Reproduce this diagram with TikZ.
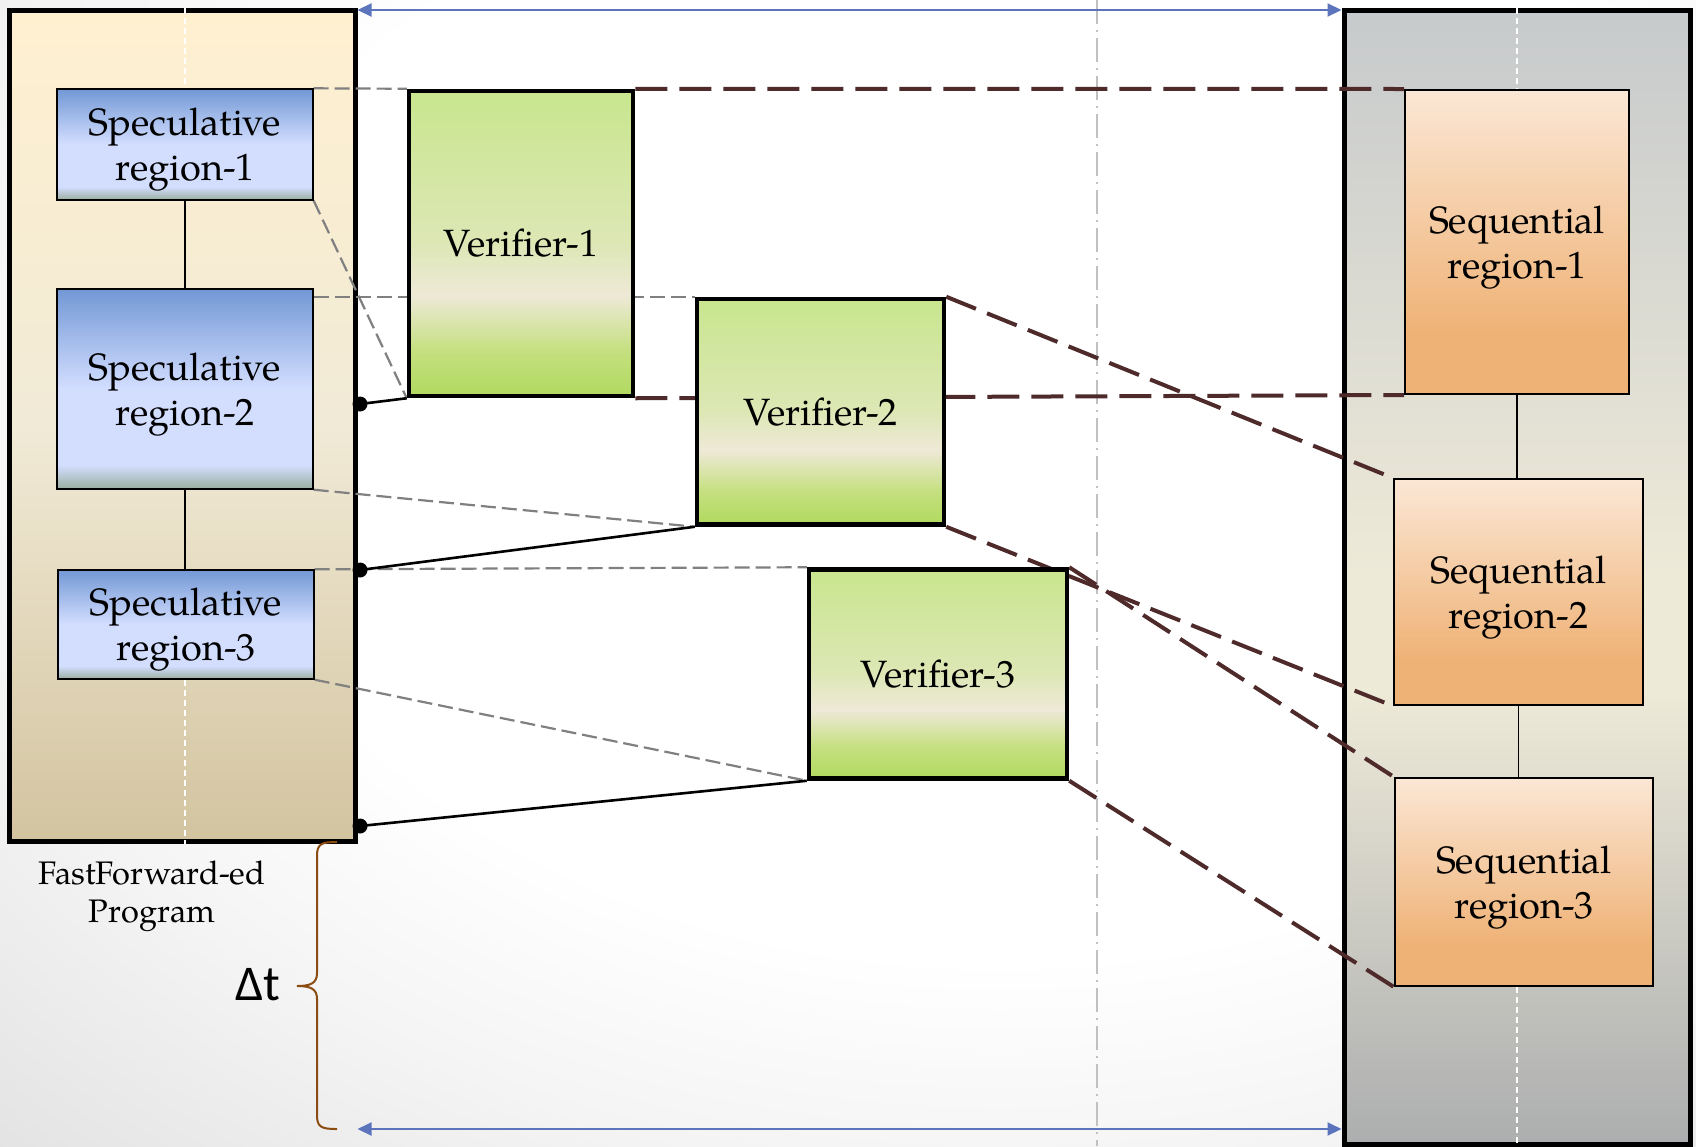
\documentclass[tikz,border=0pt]{standalone}
\usepackage{fontspec}
\setmainfont{TeX Gyre Pagella}
\newfontfamily\dtfont{Carlito}
\usetikzlibrary{arrows.meta}

\definecolor{progtop}{HTML}{FFF0D0}
\definecolor{progmid}{HTML}{F1EAD6}
\definecolor{progbot}{HTML}{D3C4A0}
\definecolor{coltop}{HTML}{C7CACC}
\definecolor{colmid}{HTML}{EEEAD8}
\definecolor{colbot}{HTML}{ACAEAF}
\definecolor{spectop}{HTML}{7298D5}
\definecolor{speclight}{HTML}{D3DEFF}
\definecolor{specbot}{HTML}{9AAE9F}
\definecolor{vertop}{HTML}{C8E68E}
\definecolor{verlight}{HTML}{DDE7B5}
\definecolor{vermid}{HTML}{EEE9D7}
\definecolor{verlow}{HTML}{C5E080}
\definecolor{verbot}{HTML}{B1D95F}
\definecolor{seqtop}{HTML}{FBE7D5}
\definecolor{seqbot}{HTML}{EFB276}
\definecolor{arrowblue}{HTML}{5B74BC}
\definecolor{darkdash}{HTML}{4E2A2A}
\definecolor{bracebrown}{HTML}{8B4C12}
\definecolor{dashgray}{HTML}{808080}
\definecolor{axisgray}{HTML}{C0C0C0}

\pgfdeclareverticalshading{progshade}{100bp}{color(0bp)=(progbot); color(25bp)=(progbot); color(50bp)=(progmid); color(75bp)=(progtop); color(100bp)=(progtop)}
\pgfdeclareverticalshading{colshade}{100bp}{color(0bp)=(colbot); color(25bp)=(colbot); color(45bp)=(colmid); color(50bp)=(colmid); color(75bp)=(coltop); color(100bp)=(coltop)}
\pgfdeclareverticalshading{specshade}{100bp}{color(0bp)=(specbot); color(25bp)=(specbot); color(31bp)=(speclight); color(50bp)=(speclight); color(75bp)=(spectop); color(100bp)=(spectop)}
\pgfdeclareverticalshading{vershade}{100bp}{color(0bp)=(verbot); color(25bp)=(verbot); color(32.5bp)=(verlow); color(41.5bp)=(vermid); color(50bp)=(verlight); color(75bp)=(vertop); color(100bp)=(vertop)}
\pgfdeclareverticalshading{seqshade}{100bp}{color(0bp)=(seqbot); color(25bp)=(seqbot); color(35bp)=(seqbot); color(75bp)=(seqtop); color(100bp)=(seqtop)}
\pgfdeclareradialshading{bgshade}{\pgfpoint{0bp}{0bp}}{color(0bp)=(white); color(14bp)=(white); color(19bp)=(black!4); color(26bp)=(black!11); color(35bp)=(black!13); color(50bp)=(black!13)}

\pgfdeclarelayer{background}
\pgfdeclarelayer{lines}
\pgfsetlayers{background,lines,main}

\tikzset{
  boxfont/.style={font=\fontsize{19}{22.5}\selectfont},
  bigcol/.style={draw=black, line width=2.5pt, shade, inner sep=0pt},
  specbox/.style={draw=black, line width=0.7pt, shade, shading=specshade, inner sep=0pt},
  verbox/.style={draw=black, line width=2.25pt, shade, shading=vershade, inner sep=0pt, align=center, boxfont},
  seqbox/.style={draw=black, line width=1pt, shade, shading=seqshade, inner sep=0pt},
  boxtext/.style={align=center, inner sep=0pt, boxfont, yshift=-2.75pt},
  graydash/.style={draw=dashgray, line width=1.1pt, dash pattern=on 7.5pt off 3pt},
  browndash/.style={draw=darkdash, line width=2pt, dash pattern=on 16pt off 6pt},
  blackline/.style={draw=black, line width=1.3pt},
  thinlink/.style={draw=black, line width=0.8pt},
  dotmark/.style={circle, fill=black, inner sep=0pt, minimum size=7.5pt},
  whitedash/.style={draw=white, line width=0.8pt, dash pattern=on 3pt off 2pt},
  timearrow/.style={draw=arrowblue, line width=1pt, {Triangle[length=7pt,width=6.5pt]}-{Triangle[length=7pt,width=6.5pt]}},
  axisline/.style={draw=axisgray, line width=0.75pt, dash pattern=on 12pt off 3pt on 1pt off 3pt},
}

\begin{document}
\begin{tikzpicture}[x=0.5pt,y=-0.5pt]
\useasboundingbox (0,0) rectangle (1696,1146);

% main nodes
\node[specbox, minimum width=128pt, minimum height=55.5pt] (s1) at (185,144.5) {};
\node[specbox, minimum width=128pt, minimum height=100pt] (s2) at (185,389) {};
\node[specbox, minimum width=128pt, minimum height=54.5pt] (s3) at (186,624.5) {};
\node[boxtext] (s1t) at (s1.center) {Speculative\\region-1};
\node[boxtext] (s2t) at (s2.center) {Speculative\\region-2};
\node[boxtext] (s3t) at (s3.center) {Speculative\\region-3};

\node[verbox, minimum width=112pt, minimum height=152.5pt] (v1) at (521,243.5) {Verifier-1};
\node[verbox, minimum width=123.5pt, minimum height=112.75pt] (v2) at (820.5,411.75) {Verifier-2};
\node[verbox, minimum width=129pt, minimum height=104.5pt] (v3) at (938,674) {Verifier-3};

\node[seqbox, minimum width=112pt, minimum height=152pt] (q1) at (1517,242) {};
\node[seqbox, minimum width=124.5pt, minimum height=113pt] (q2) at (1518.5,592) {};
\node[seqbox, minimum width=129pt, minimum height=104pt] (q3) at (1524,882) {};
\node[boxtext] (q1t) at (q1.center) {Sequential\\region-1};
\node[boxtext] (q2t) at (q2.center) {Sequential\\region-2};
\node[boxtext] (q3t) at (q3.center) {Sequential\\region-3};

\begin{pgfonlayer}{background}
  \begin{scope}
    \clip (0,0) rectangle (1696,1146);
    \shade[shading=bgshade] (-400,-600) rectangle (2400,1400);
  \end{scope}
  \draw[axisline] (1097,0) -- (1097,1146);
  \node[bigcol, shading=progshade, minimum width=172.75pt, minimum height=415.5pt] (prog) at (182.25,425.5) {};
  \node[bigcol, shading=colshade, minimum width=173pt, minimum height=566.75pt] (seqcol) at (1517,577.25) {};
  % white centre lines
  \draw[whitedash] (s1.north |- prog.north) -- (s1.north);
  \draw[whitedash] (s1.south |- s3.south) -- (s1.south |- prog.south);
  \draw[whitedash] (q1.north |- seqcol.north) -- (q1.north);
  \draw[whitedash] (q1.south |- q3.south) -- (q1.south |- seqcol.south);
  % time arrows
  \draw[timearrow] ([yshift=-1.25pt]prog.north east) -- ([yshift=-1.25pt]prog.north east -| seqcol.west);
  \draw[timearrow] (prog.east |- 0,1129) -- (seqcol.west |- 0,1129);
  % brace
  \draw[bracebrown, line width=1pt]
    (337,842) .. controls (321,842) and (317,844) .. (317,856) -- (317,973)
    .. controls (317,983) and (311,986) .. (297,986)
    .. controls (311,986) and (317,989) .. (317,999) -- (317,1115)
    .. controls (317,1127) and (321,1129) .. (337,1129);
\end{pgfonlayer}

\begin{pgfonlayer}{lines}
  \draw[graydash] (s1.north east) -- (v1.north west);
  \draw[graydash] (s1.south east) -- (v1.south west);
  \draw[graydash] (s2.north east |- v2.north west) -- (v2.north west);
  \draw[graydash] (s2.south east) -- (v2.south west);
  \draw[graydash] (s3.north east) -- (v3.north west);
  \draw[graydash] (s3.south east) -- (v3.south west);
  \draw[browndash] (v1.north east) -- (q1.north west);
  \draw[browndash] (v1.south east) -- (q1.south west);
  \draw[browndash] (v2.north east) -- (q2.north west);
  \draw[browndash] (v2.south east) -- (q2.south west);
  \draw[browndash] (v3.north east) -- (q3.north west);
  \draw[browndash] (v3.south east) -- (q3.south west);
\end{pgfonlayer}

% links inside columns
\draw[thinlink] (s1.south) -- (s2.north);
\draw[thinlink] (s2.south) -- (s2.south |- s3.north);
\draw[thinlink] (q1.south) -- (q1.south |- q2.north);
\draw[thinlink] (q2.south) -- (q2.south |- q3.north);

% dots and solid links
\node[dotmark] (d1) at (360,404) {};
\node[dotmark] (d2) at (360,570) {};
\node[dotmark] (d3) at (360,826) {};
\draw[blackline] (d1.center) -- (v1.south west);
\draw[blackline] (d2.center) -- (v2.south west);
\draw[blackline] (d3.center) -- (v3.south west);

% labels
\node[align=center, font=\fontsize{16.3}{19}\selectfont] (fflabel) at (152,896) {FastForward-ed\\Program};
\node[font=\dtfont\fontsize{25}{30}\selectfont] (dt) at (258,985) {Δt};
\end{tikzpicture}
\end{document}
